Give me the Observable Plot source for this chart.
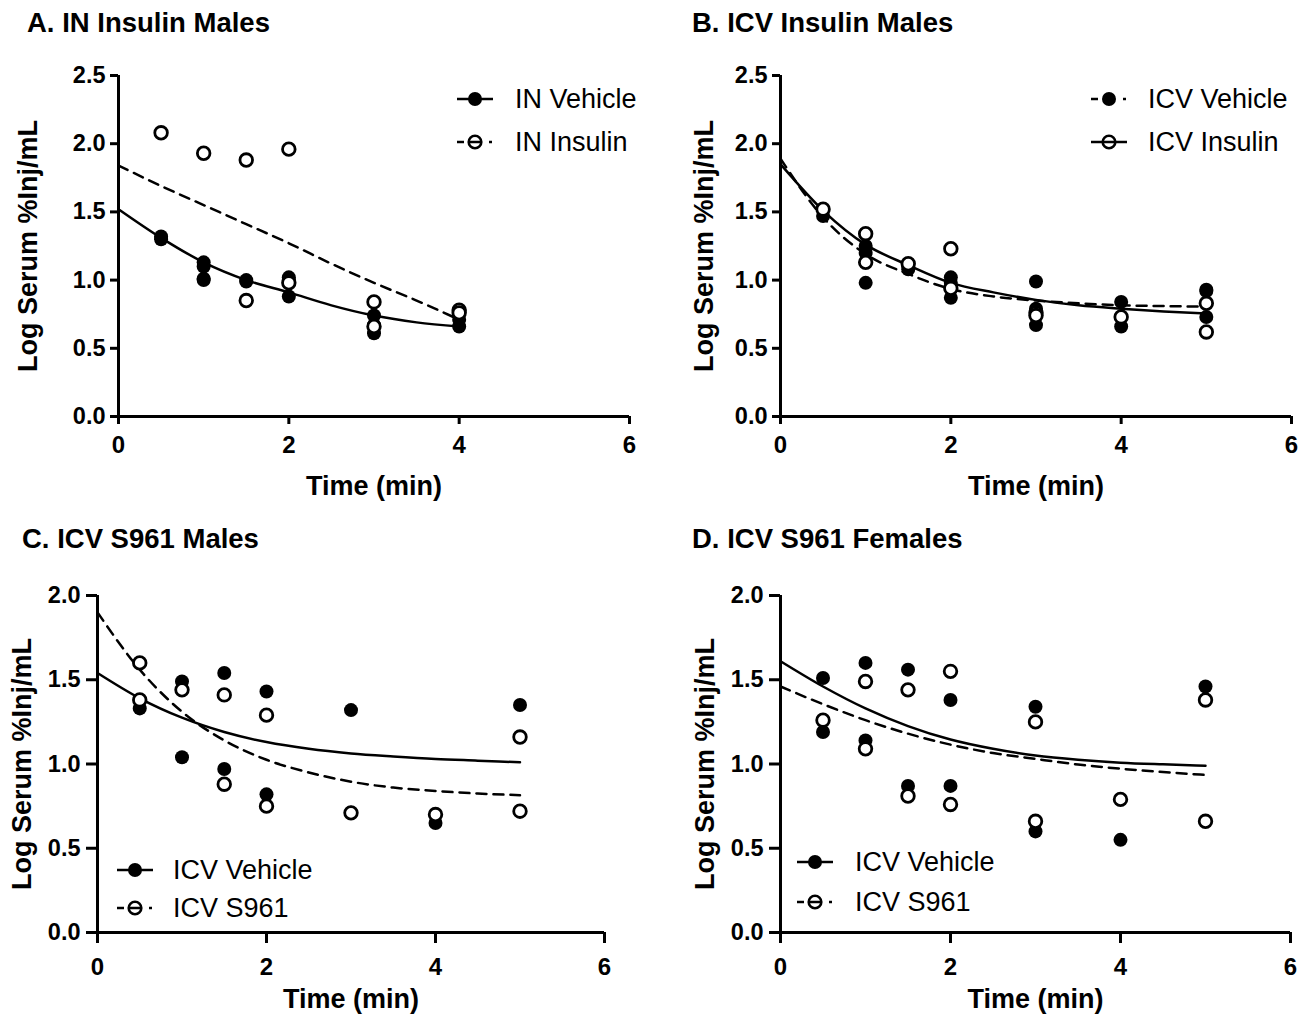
<!DOCTYPE html>
<html><head><meta charset="utf-8">
<script src="https://cdn.jsdelivr.net/npm/d3@7"></script>
<script src="https://cdn.jsdelivr.net/npm/@observablehq/plot@0.6"></script>
<style>
body{margin:0;background:#fff;}
#wrap{position:relative;width:1307px;height:1014px;overflow:hidden;font-family:"Liberation Sans",Arial,sans-serif;color:#000;}
.title{position:absolute;font-weight:bold;font-size:27.5px;white-space:nowrap;line-height:1;}
.leg{position:absolute;font-size:27px;white-space:nowrap;display:flex;align-items:center;height:34px;}
.leg svg{display:block;margin-right:0;}
.pl{position:absolute;}
</style></head><body><div id="wrap"></div><script>
// ---------- data ----------
const timeTicks = [0, 2, 4, 6];
const yTicksTop = [0, 0.5, 1, 1.5, 2, 2.5];
const yTicksBottom = [0, 0.5, 1, 1.5, 2];

// Panel A: IN Insulin Males
const aVehiclePts = [[0.5,1.32],[0.5,1.30],[1,1.13],[1,1.10],[1,1.00],[1,1.01],[1.5,1.00],[1.5,0.99],[2,1.02],[2,1.00],[2,0.88],[3,0.74],[3,0.67],[3,0.61],[4,0.71],[4,0.66]];
const aInsulinPts = [[0.5,2.08],[1,1.93],[1.5,1.88],[1.5,0.85],[2,1.96],[2,0.98],[3,0.84],[3,0.66],[4,0.78],[4,0.76]];
const aVehicleFit = [[0,1.52],[0.5,1.31],[1,1.13],[1.5,1.00],[2,0.91],[2.5,0.815],[3,0.74],[3.5,0.69],[4,0.66]];
const aInsulinFit = [[0,1.84],[0.5,1.69],[1,1.55],[1.5,1.41],[2,1.27],[2.5,1.12],[3,0.98],[3.5,0.85],[4,0.71]];

// Panel B: ICV Insulin Males
const bVehiclePts = [[0.5,1.47],[1,1.25],[1,1.20],[1,0.98],[1.5,1.08],[2,1.02],[2,0.98],[2,0.87],[3,0.99],[3,0.79],[3,0.67],[4,0.84],[4,0.66],[5,0.93],[5,0.92],[5,0.73]];
const bInsulinPts = [[0.5,1.52],[1,1.34],[1,1.13],[1.5,1.12],[2,1.23],[2,0.94],[3,0.76],[3,0.74],[4,0.73],[5,0.83],[5,0.62]];
const bVehicleFit = [[0,1.89],[0.5,1.46],[1,1.19],[1.5,1.045],[2,0.935],[2.5,0.88],[3,0.85],[3.5,0.83],[4,0.815],[4.5,0.81],[5,0.805]];
const bInsulinFit = [[0,1.85],[0.5,1.51],[1,1.26],[1.5,1.11],[2,0.98],[2.5,0.91],[3,0.855],[3.5,0.815],[4,0.79],[4.5,0.77],[5,0.755]];

// Panel C: ICV S961 Males
const cVehiclePts = [[0.5,1.33],[1,1.49],[1,1.04],[1.5,1.54],[1.5,0.97],[2,1.43],[2,0.82],[3,1.32],[3,0.71],[4,0.65],[5,1.35]];
const cS961Pts = [[0.5,1.60],[0.5,1.38],[1,1.44],[1.5,1.41],[1.5,0.88],[2,1.29],[2,0.75],[3,0.71],[4,0.70],[5,1.16],[5,0.72]];
const cVehicleFit = [[0,1.54],[0.5,1.39],[1,1.275],[1.5,1.19],[2,1.13],[2.5,1.09],[3,1.063],[3.5,1.045],[4,1.03],[4.5,1.02],[5,1.01]];
const cS961Fit = [[0,1.90],[0.5,1.56],[1,1.31],[1.5,1.14],[2,1.025],[2.5,0.95],[3,0.895],[3.5,0.86],[4,0.84],[4.5,0.825],[5,0.815]];

// Panel D: ICV S961 Females
const dVehiclePts = [[0.5,1.51],[0.5,1.19],[1,1.60],[1,1.14],[1.5,1.56],[1.5,0.87],[2,1.38],[2,0.87],[3,1.34],[3,0.60],[4,0.55],[5,1.46]];
const dS961Pts = [[0.5,1.26],[1,1.49],[1,1.09],[1.5,1.44],[1.5,0.81],[2,1.55],[2,0.76],[3,1.25],[3,0.66],[4,0.79],[5,1.38],[5,0.66]];
const dVehicleFit = [[0,1.61],[0.5,1.46],[1,1.33],[1.5,1.225],[2,1.145],[2.5,1.09],[3,1.05],[3.5,1.025],[4,1.008],[4.5,0.998],[5,0.99]];
const dS961Fit = [[0,1.46],[0.5,1.355],[1,1.26],[1.5,1.18],[2,1.115],[2.5,1.065],[3,1.03],[3.5,0.997],[4,0.972],[4.5,0.952],[5,0.935]];

const titles = ["A. IN Insulin Males", "B. ICV Insulin Males", "C. ICV S961 Males", "D. ICV S961 Females"];
const xLabel = "Time (min)";
const yLabel = "Log Serum %Inj/mL";

// ---------- drawing ----------
const wrap = document.getElementById("wrap");
const FONT = '"Liberation Sans", Arial, sans-serif';
const DASH = "10,7";

function panel(cfg) {
  const marks = [
    Plot.ruleY([0], {strokeWidth: 3}),
    Plot.ruleX([0], {strokeWidth: 3}),
    Plot.axisX({ticks: timeTicks, tickSize: cfg.tsx, tickPadding: cfg.tpx, strokeWidth: 3, label: null, fontSize: 24, fontWeight: "bold", tickFormat: d => String(d)}),
    Plot.axisY({ticks: cfg.yTicks, tickSize: cfg.tsy, tickPadding: cfg.tpy, strokeWidth: 3, label: null, fontSize: 23.5, fontWeight: "bold", tickFormat: d => d.toFixed(1)})
  ];
  for (const s of cfg.series) {
    marks.push(Plot.line(s.fit, {x: d => d[0], y: d => d[1], curve: "monotone-x", stroke: "black", strokeWidth: 2.5, strokeDasharray: s.dashed ? DASH : null}));
  }
  for (const s of cfg.series.filter(s => s.filled)) {
    marks.push(Plot.dot(s.pts, {x: d => d[0], y: d => d[1], r: 7, fill: "black", stroke: "none"}));
  }
  for (const s of cfg.series.filter(s => !s.filled)) {
    marks.push(Plot.dot(s.pts, {x: d => d[0], y: d => d[1], r: 6.3, fill: "white", stroke: "black", strokeWidth: 2.8}));
  }
  marks.push(Plot.text([xLabel], {frameAnchor: "bottom", dy: cfg.xtDy, lineAnchor: "bottom", textAnchor: "middle", fontSize: 27, fontWeight: "bold"}));
  marks.push(Plot.text([yLabel], {frameAnchor: "left", dx: cfg.ytDx, rotate: -90, textAnchor: "middle", lineAnchor: "middle", fontSize: 27, fontWeight: "bold"}));
  const svg = Plot.plot({
    width: cfg.width, height: cfg.height,
    marginLeft: cfg.ml, marginRight: cfg.mr, marginTop: cfg.mt, marginBottom: cfg.mb,
    x: {domain: [0, 6]},
    y: {domain: [0, cfg.yMax]},
    style: {fontFamily: FONT, color: "black", background: "transparent", overflow: "visible"},
    marks
  });
  svg.classList.add("pl");
  svg.style.left = cfg.left + "px";
  svg.style.top = cfg.top + "px";
  wrap.appendChild(svg);

  const t = document.createElement("div");
  t.className = "title";
  t.textContent = cfg.title;
  t.style.left = cfg.titleX + "px";
  t.style.top = cfg.titleY + "px";
  wrap.appendChild(t);

  cfg.series.forEach((s, i) => {
    const d = document.createElement("div");
    d.className = "leg";
    d.style.left = cfg.legX + "px";
    d.style.top = (cfg.legY[i] - 17) + "px";
    const ns = "http://www.w3.org/2000/svg";
    const sv = document.createElementNS(ns, "svg");
    sv.setAttribute("width", 40); sv.setAttribute("height", 20);
    sv.style.marginRight = (cfg.legGap) + "px";
    const add = (tag, at) => { const e = document.createElementNS(ns, tag); for (const k in at) e.setAttribute(k, at[k]); sv.appendChild(e); };
    if (s.dashed) {
      add("line", {x1: 1, x2: 8, y1: 10, y2: 10, stroke: "black", "stroke-width": 2.5});
      add("line", {x1: 33, x2: 36, y1: 10, y2: 10, stroke: "black", "stroke-width": 2.5});
      if (!s.filled) add("line", {x1: 14, x2: 26, y1: 10, y2: 10, stroke: "black", "stroke-width": 2.5});
    } else {
      add("line", {x1: 1, x2: 37, y1: 10, y2: 10, stroke: "black", "stroke-width": 2.5});
    }
    if (s.filled) add("circle", {cx: 19, cy: 10, r: 7, fill: "black"});
    else add("circle", {cx: 19, cy: 10, r: 6.3, fill: "none", stroke: "black", "stroke-width": 2.6});
    d.appendChild(sv);
    const sp = document.createElement("span");
    sp.textContent = s.name;
    d.appendChild(sp);
    wrap.appendChild(d);
  });
}

panel({
  title: titles[0], titleX: 27, titleY: 9,
  left: 0, top: 50, width: 653, height: 470, ml: 118, mr: 24, mt: 25, mb: 104,
  yMax: 2.5, yTicks: yTicksTop, tsx: 8, tpx: 11, tsy: 8, tpy: 5, xtDy: 78, ytDx: -90,
  legX: 456, legY: [99, 142], legGap: 19,
  series: [
    {name: "IN Vehicle", pts: aVehiclePts, fit: aVehicleFit, filled: true, dashed: false},
    {name: "IN Insulin", pts: aInsulinPts, fit: aInsulinFit, filled: false, dashed: true}
  ]
});
panel({
  title: titles[1], titleX: 692, titleY: 9,
  left: 653, top: 50, width: 654, height: 470, ml: 127, mr: 16, mt: 25, mb: 104,
  yMax: 2.5, yTicks: yTicksTop, tsx: 8, tpx: 11, tsy: 8, tpy: 5, xtDy: 78, ytDx: -76,
  legX: 1090, legY: [99, 142], legGap: 18,
  series: [
    {name: "ICV Vehicle", pts: bVehiclePts, fit: bVehicleFit, filled: true, dashed: true},
    {name: "ICV Insulin", pts: bInsulinPts, fit: bInsulinFit, filled: false, dashed: false}
  ]
});
panel({
  title: titles[2], titleX: 22, titleY: 525,
  left: 0, top: 560, width: 653, height: 454, ml: 97, mr: 49, mt: 35, mb: 82,
  yMax: 2, yTicks: yTicksBottom, tsx: 11, tpx: 14, tsy: 11, tpy: 6, xtDy: 75, ytDx: -75,
  legX: 116, legY: [870, 908], legGap: 17,
  series: [
    {name: "ICV Vehicle", pts: cVehiclePts, fit: cVehicleFit, filled: true, dashed: false},
    {name: "ICV S961", pts: cS961Pts, fit: cS961Fit, filled: false, dashed: true}
  ]
});
panel({
  title: titles[3], titleX: 692, titleY: 525,
  left: 653, top: 560, width: 654, height: 454, ml: 127, mr: 17, mt: 35, mb: 82,
  yMax: 2, yTicks: yTicksBottom, tsx: 11, tpx: 14, tsy: 11, tpy: 6, xtDy: 75, ytDx: -75,
  legX: 796, legY: [862, 902], legGap: 19,
  series: [
    {name: "ICV Vehicle", pts: dVehiclePts, fit: dVehicleFit, filled: true, dashed: false},
    {name: "ICV S961", pts: dS961Pts, fit: dS961Fit, filled: false, dashed: true}
  ]
});
</script></body></html>
